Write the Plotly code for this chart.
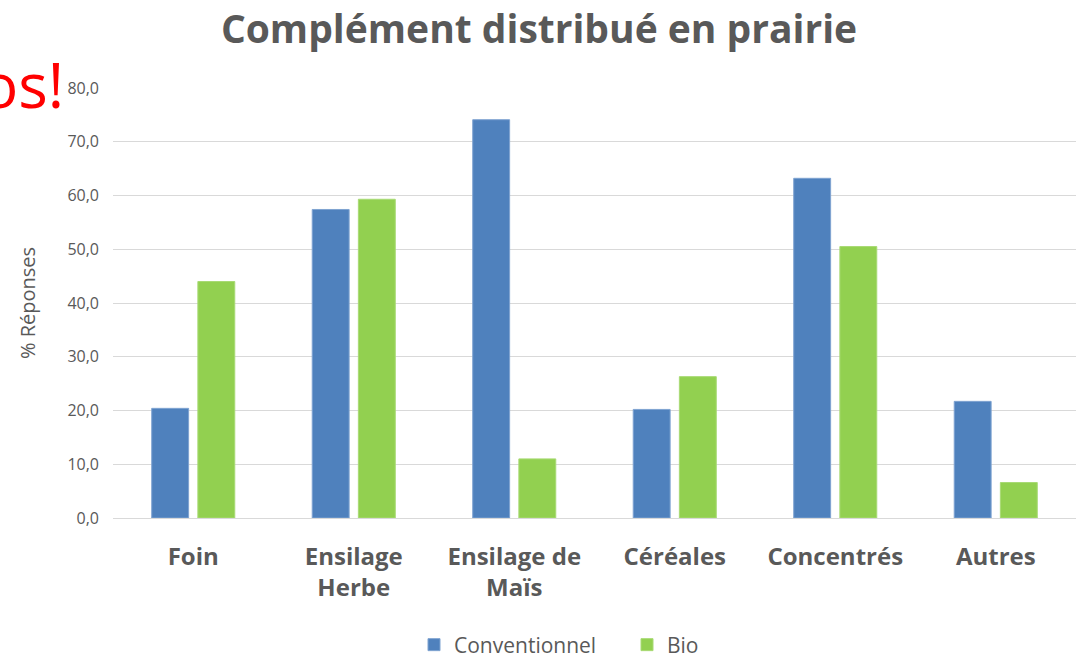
import plotly.graph_objects as go

categories = ["Foin", "Ensilage<br>Herbe", "Ensilage de<br>Maïs", "Céréales", "Concentrés", "Autres"]
conventionnel = [20.4, 57.4, 74.1, 20.2, 63.2, 21.7]
bio = [44.0, 59.3, 11.0, 26.3, 50.5, 6.6]
y_ticks = [0, 10, 20, 30, 40, 50, 60, 70, 80]

W, H = 1078, 657
ML, MR, MT, MB = 113, 2, 88, 139
PW, PH = W - ML - MR, H - MT - MB

fig = go.Figure()
fig.add_trace(go.Bar(name="Conventionnel", x=categories, y=conventionnel,
                     marker=dict(color="#4F81BD", line=dict(color="#7FA3D1", width=1))))
fig.add_trace(go.Bar(name="Bio", x=categories, y=bio,
                     marker=dict(color="#92D050", line=dict(color="#A8DA74", width=1))))

font = "Open Sans, Liberation Sans, sans-serif"
fig.update_layout(
    width=W, height=H,
    margin=dict(l=ML, r=MR, t=MT, b=MB, autoexpand=False),
    plot_bgcolor="white", paper_bgcolor="white",
    barmode="group", bargap=0.425, bargroupgap=0.2,
    separators=", ",
    title=dict(text="<b>Complément distribué en prairie</b>", x=0.5, xanchor="center",
               y=1 - 29 / H, yanchor="middle",
               font=dict(family=font, size=39, color="#595959")),
    legend=dict(orientation="h", x=(414 - ML) / PW, xanchor="left", y=-(645 - (H - MB)) / PH,
                yanchor="middle", font=dict(family=font, size=21, color="#595959"),
                entrywidth=168, entrywidthmode="pixels"),
    font=dict(family=font, color="#595959"),
    showlegend=True,
)
fig.update_yaxes(range=[0, 80], tickvals=y_ticks, tickformat=".1f", automargin=False,
                 showgrid=True, gridcolor="#D9D9D9", gridwidth=1,
                 zeroline=True, zerolinecolor="#D9D9D9", zerolinewidth=1,
                 tickfont=dict(family=font, size=16, color="#595959"),
                 ticks="", ticklabelstandoff=13,
                 title=dict(text="% Réponses", font=dict(family=font, size=20, color="#595959"),
                            standoff=26))
fig.update_xaxes(showgrid=False, showline=False, ticks="", automargin=False,
                 tickfont=dict(family=font, size=24, color="#595959"),
                 ticklabelstandoff=22,
                 tickprefix="<b>", ticksuffix="</b>")

fig.add_annotation(text="os!", xref="paper", yref="paper",
                   x=-(ML - 66) / PW, y=1 + (MT - 84) / PH,
                   xanchor="right", yanchor="middle", showarrow=False,
                   font=dict(family=font, size=62, color="#FF0000"))

fig.write_html("out.html", config={"displayModeBar": False},
               post_script="document.body.style.margin='0';document.body.style.overflow='hidden';")
